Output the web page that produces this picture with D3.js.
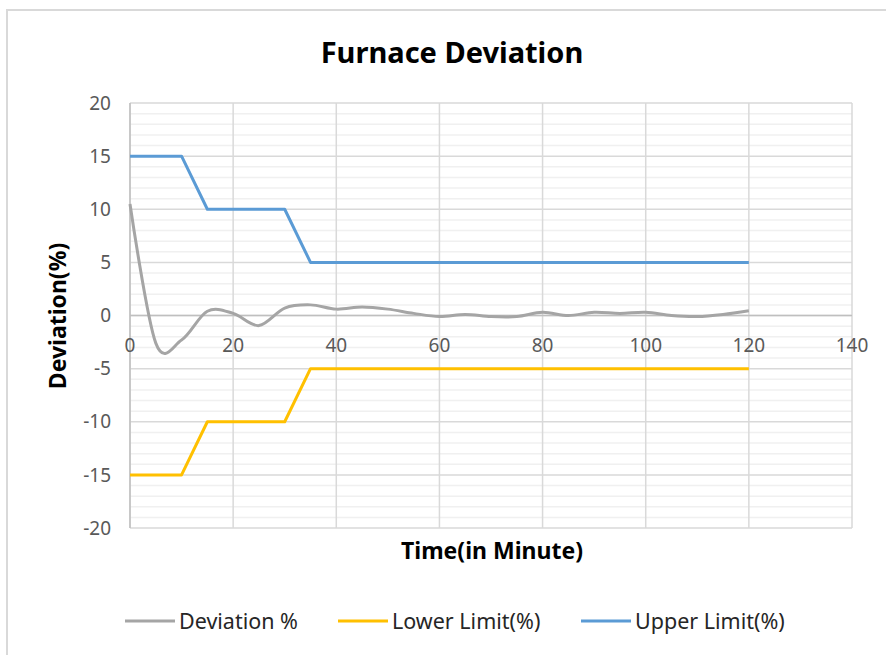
<!DOCTYPE html>
<html>
<head>
<meta charset="utf-8">
<script src="https://cdn.jsdelivr.net/npm/d3@7"></script>
<style>
  body { margin: 0; background: #fff; }
  svg { display: block; }
</style>
</head>
<body>
<div id="chart"></div>
<script>
// time in minutes, every 5 minutes
const minutes = d3.range(0, 121, 5);
const deviation = [10.5, -2.6, -2.3, 0.4, 0.2, -0.95, 0.7, 1.0, 0.6, 0.8, 0.6, 0.2,
                   -0.1, 0.1, -0.1, -0.1, 0.3, 0, 0.3, 0.2, 0.3, 0, -0.1, 0.1, 0.45];
const lowerLimit = [-15, -15, -15, -10, -10, -10, -10, -5, -5, -5, -5, -5,
                    -5, -5, -5, -5, -5, -5, -5, -5, -5, -5, -5, -5, -5];
const upperLimit = [15, 15, 15, 10, 10, 10, 10, 5, 5, 5, 5, 5,
                    5, 5, 5, 5, 5, 5, 5, 5, 5, 5, 5, 5, 5];
const xTicks = [0, 20, 40, 60, 80, 100, 120, 140];
const yTicks = [-20, -15, -10, -5, 0, 5, 10, 15, 20];

const series = [
  { name: 'Deviation %', values: deviation, color: '#a5a5a5', smooth: true },
  { name: 'Lower Limit(%)', values: lowerLimit, color: '#ffc000', smooth: false },
  { name: 'Upper Limit(%)', values: upperLimit, color: '#5b9bd5', smooth: false }
];

const width = 886, height = 655;
const font = "'Noto Sans', 'Open Sans', sans-serif";

const svg = d3.select('#chart').append('svg')
  .attr('width', width)
  .attr('height', height);

// chart frame
svg.append('rect')
  .attr('x', 7).attr('y', 10)
  .attr('width', width + 10).attr('height', height + 10)
  .attr('fill', '#fff')
  .attr('stroke', '#d9d9d9')
  .attr('stroke-width', 2);

const plot = { left: 130, right: 852, top: 103, bottom: 528 };

const x = d3.scaleLinear().domain([0, 140]).range([plot.left, plot.right]);
const y = d3.scaleLinear().domain([-20, 20]).range([plot.bottom, plot.top]);

const g = svg.append('g');

// minor horizontal gridlines
g.selectAll('.minor')
  .data(d3.range(-20, 21, 1).filter(v => v % 5 !== 0))
  .join('line')
  .attr('class', 'minor')
  .attr('x1', plot.left).attr('x2', plot.right)
  .attr('y1', d => y(d)).attr('y2', d => y(d))
  .attr('stroke', '#f0f0f0')
  .attr('stroke-width', 1.5);

// major horizontal gridlines
g.selectAll('.hmajor')
  .data(yTicks)
  .join('line')
  .attr('class', 'hmajor')
  .attr('x1', plot.left).attr('x2', plot.right)
  .attr('y1', d => y(d)).attr('y2', d => y(d))
  .attr('stroke', '#d9d9d9')
  .attr('stroke-width', 1.5);

// vertical gridlines
g.selectAll('.vmajor')
  .data(xTicks)
  .join('line')
  .attr('class', 'vmajor')
  .attr('y1', plot.top).attr('y2', plot.bottom)
  .attr('x1', d => x(d)).attr('x2', d => x(d))
  .attr('stroke', '#d9d9d9')
  .attr('stroke-width', 1.5);

// axis lines
g.append('line')
  .attr('x1', x(0)).attr('x2', x(0))
  .attr('y1', plot.top).attr('y2', plot.bottom)
  .attr('stroke', '#bfbfbf').attr('stroke-width', 1.5);
g.append('line')
  .attr('x1', plot.left).attr('x2', plot.right)
  .attr('y1', y(0)).attr('y2', y(0))
  .attr('stroke', '#bfbfbf').attr('stroke-width', 1.5);

// y tick labels
g.selectAll('.ylabel')
  .data(yTicks)
  .join('text')
  .attr('class', 'ylabel')
  .attr('x', 111)
  .attr('y', d => y(d))
  .attr('dy', '0.35em')
  .attr('text-anchor', 'end')
  .attr('font-family', font)
  .attr('font-size', 19)
  .attr('fill', '#595959')
  .text(d => d);

// x tick labels (axis crosses at y = 0)
g.selectAll('.xlabel')
  .data(xTicks)
  .join('text')
  .attr('class', 'xlabel')
  .attr('x', d => x(d))
  .attr('y', y(0) + 36)
  .attr('text-anchor', 'middle')
  .attr('font-family', font)
  .attr('font-size', 19)
  .attr('fill', '#595959')
  .text(d => d);

// lines
series.forEach(s => {
  const line = d3.line()
    .x((d, i) => x(minutes[i]))
    .y(d => y(d))
    .curve(s.smooth ? d3.curveCardinal.tension(0) : d3.curveLinear);
  g.append('path')
    .datum(s.values)
    .attr('d', line)
    .attr('fill', 'none')
    .attr('stroke', s.color)
    .attr('stroke-width', 3)
    .attr('stroke-linejoin', 'round');
});

// title
svg.append('text')
  .attr('x', 452).attr('y', 63)
  .attr('text-anchor', 'middle')
  .attr('font-family', font)
  .attr('font-weight', 'bold')
  .attr('font-size', 29)
  .attr('fill', '#000')
  .text('Furnace Deviation');

// axis titles
svg.append('text')
  .attr('x', 492).attr('y', 559)
  .attr('text-anchor', 'middle')
  .attr('font-family', font)
  .attr('font-weight', 'bold')
  .attr('font-size', 23)
  .attr('fill', '#000')
  .text('Time(in Minute)');

svg.append('text')
  .attr('transform', 'translate(66,316) rotate(-90)')
  .attr('text-anchor', 'middle')
  .attr('font-family', font)
  .attr('font-weight', 'bold')
  .attr('font-size', 23)
  .attr('fill', '#000')
  .text('Deviation(%)');

// legend
const legendX = [125, 338, 581];
const legend = svg.selectAll('.legend')
  .data(series)
  .join('g')
  .attr('class', 'legend')
  .attr('transform', (d, i) => `translate(${legendX[i]},621)`);

legend.append('line')
  .attr('x1', 0).attr('x2', 50)
  .attr('stroke', d => d.color)
  .attr('stroke-width', 3);

legend.append('text')
  .attr('x', 54)
  .attr('dy', '0.35em')
  .attr('font-family', font)
  .attr('font-size', 21.5)
  .attr('fill', '#262626')
  .text(d => d.name);
</script>
</body>
</html>
